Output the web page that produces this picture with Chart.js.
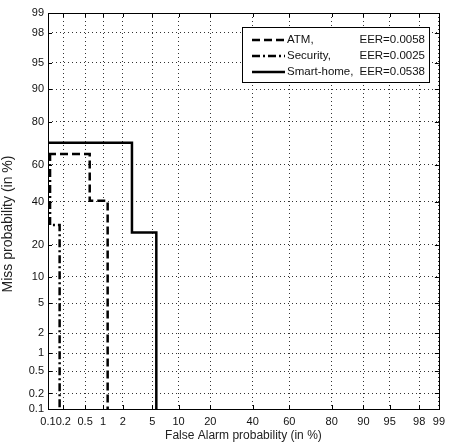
<!DOCTYPE html>
<html>
<head>
<meta charset="utf-8">
<script src="https://cdn.jsdelivr.net/npm/chart.js@4"></script>
<style>
  body { margin: 0; background: #fff; }
  canvas { display: block; }
</style>
</head>
<body>
<canvas id="det" width="451" height="442"></canvas>
<script>
// DET curves, all values in %
const tickValues = [0.1, 0.2, 0.5, 1, 2, 5, 10, 20, 40, 60, 80, 90, 95, 98, 99];
const tickLabels = ['0.1', '0.2', '0.5', '1', '2', '5', '10', '20', '40', '60', '80', '90', '95', '98', '99'];

const seriesNames = ['ATM,', 'Security,', 'Smart-home,'];
const eerLabels = ['EER=0.0058', 'EER=0.0025', 'EER=0.0538'];

const atmFA = [0.1, 0.6, 0.6, 1.18, 1.18];
const atmMiss = [65.4, 65.4, 40.4, 40.4, 0.1];

const securityFA = [0.11, 0.11, 0.17, 0.17];
const securityMiss = [66, 28.3, 28.3, 0.1];

const smartFA = [0.1, 2.7, 2.7, 5.6, 5.6];
const smartMiss = [70.9, 70.9, 25, 25, 0.1];

// inverse normal CDF (Acklam), used as the axis warp
function probit(p) {
    const a = [-3.969683028665376e+01, 2.209460984245205e+02, -2.759285104469687e+02, 1.383577518672690e+02, -3.066479806614716e+01, 2.506628277459239e+00];
    const b = [-5.447609879822406e+01, 1.615858368580409e+02, -1.556989798598866e+02, 6.680131188771972e+01, -1.328068155288572e+01];
    const c = [-7.784894002430293e-03, -3.223964580411365e-01, -2.400758277161838e+00, -2.549732539343734e+00, 4.374664141464968e+00, 2.938163982698783e+00];
    const d = [7.784695709041462e-03, 3.224671290700398e-01, 2.445134137142996e+00, 3.754408661907416e+00];
    const pl = 0.02425;
    let q, r;
    if (p < pl) {
        q = Math.sqrt(-2 * Math.log(p));
        return (((((c[0]*q+c[1])*q+c[2])*q+c[3])*q+c[4])*q+c[5]) / ((((d[0]*q+d[1])*q+d[2])*q+d[3])*q+1);
    }
    if (p > 1 - pl) {
        q = Math.sqrt(-2 * Math.log(1 - p));
        return -(((((c[0]*q+c[1])*q+c[2])*q+c[3])*q+c[4])*q+c[5]) / ((((d[0]*q+d[1])*q+d[2])*q+d[3])*q+1);
    }
    q = p - 0.5;
    r = q * q;
    return (((((a[0]*r+a[1])*r+a[2])*r+a[3])*r+a[4])*r+a[5])*q / (((((b[0]*r+b[1])*r+b[2])*r+b[3])*r+b[4])*r+1);
}
const pct = v => probit(v / 100);

function toPoints(fa, miss) {
    return fa.map((x, i) => ({ x: pct(x), y: pct(miss[i]) }));
}

const FONT = 'Arial, "Liberation Sans", sans-serif';
const dashes = [[8, 4], [8, 3, 2, 3], []];

const probitTicks = scale => {
    scale.ticks = tickValues.map(v => ({ value: pct(v) }));
};

// box, inner tick marks, legend and axis titles (MATLAB style)
const framePlugin = {
    id: 'frame',
    afterDatasetsDraw(chart) {
        const { ctx, chartArea: a, scales } = chart;
        ctx.save();
        ctx.strokeStyle = '#000';
        ctx.lineWidth = 1;
        ctx.setLineDash([]);
        ctx.beginPath();
        tickValues.forEach(v => {
            const x = Math.round(scales.x.getPixelForValue(pct(v))) + 0.5;
            const y = Math.round(scales.y.getPixelForValue(pct(v))) + 0.5;
            ctx.moveTo(x, a.bottom); ctx.lineTo(x, a.bottom - 4);
            ctx.moveTo(x, a.top); ctx.lineTo(x, a.top + 4);
            ctx.moveTo(a.left, y); ctx.lineTo(a.left + 4, y);
            ctx.moveTo(a.right, y); ctx.lineTo(a.right - 4, y);
        });
        ctx.stroke();
        ctx.strokeRect(Math.round(a.left) + 0.5, Math.round(a.top) + 0.5,
            Math.round(a.right - a.left), Math.round(a.bottom - a.top));

        // legend
        const lx = 242, ly = 27, lw = 187, lh = 55;
        ctx.fillStyle = '#fff';
        ctx.fillRect(lx, ly, lw, lh);
        ctx.strokeRect(lx + 0.5, ly + 0.5, lw, lh);
        ctx.font = '11.5px ' + FONT;
        ctx.textBaseline = 'middle';
        chart.data.datasets.forEach((ds, i) => {
            const y = ly + 13 + i * 16;
            ctx.setLineDash(dashes[i]);
            ctx.lineWidth = 2.5;
            ctx.beginPath();
            ctx.moveTo(252, y); ctx.lineTo(285, y);
            ctx.stroke();
            ctx.fillStyle = '#111';
            ctx.textAlign = 'left';
            ctx.fillText(seriesNames[i], 287, y);
            ctx.textAlign = 'right';
            ctx.fillText(eerLabels[i], 425, y);
        });
        ctx.setLineDash([]);

        // axis titles
        ctx.fillStyle = '#222';
        ctx.textAlign = 'center';
        ctx.font = '12px ' + FONT;
        ctx.fillText('False Alarm probability (in %)', (a.left + a.right) / 2, 436);
        ctx.translate(8, 224);
        ctx.rotate(-Math.PI / 2);
        ctx.font = '14px ' + FONT;
        ctx.fillText('Miss probability (in %)', 0, 0);
        ctx.restore();
    }
};

const ds = (label, fa, miss, i) => ({
    label,
    data: toPoints(fa, miss),
    borderColor: '#000',
    borderWidth: 2.5,
    borderDash: dashes[i],
    pointRadius: 0,
    fill: false,
    tension: 0
});

const axisOpts = {
    type: 'linear',
    min: pct(0.1),
    max: pct(99),
    afterBuildTicks: probitTicks,
    border: { display: false, dash: [1, 3] },
    grid: { color: '#333', drawTicks: false, lineWidth: 1 },
};

new Chart(document.getElementById('det'), {
    type: 'line',
    data: {
        datasets: [
            ds(seriesNames[0], atmFA, atmMiss, 0),
            ds(seriesNames[1], securityFA, securityMiss, 1),
            ds(seriesNames[2], smartFA, smartMiss, 2)
        ]
    },
    options: {
        responsive: false,
        animation: false,
        layout: { padding: { top: 13, right: 8, left: 0, bottom: 0 } },
        plugins: { legend: { display: false }, tooltip: { enabled: false } },
        scales: {
            x: {
                ...axisOpts,
                afterFit: s => { s.height = 33; },
                ticks: {
                    autoSkip: false,
                    maxRotation: 0,
                    padding: 6,
                    color: '#111',
                    font: { family: FONT, size: 11 },
                    callback: (v, i) => tickLabels[i]
                }
            },
            y: {
                ...axisOpts,
                afterFit: s => { s.width = 48; },
                ticks: {
                    autoSkip: false,
                    padding: 4,
                    color: '#111',
                    font: { family: FONT, size: 11 },
                    callback: (v, i) => tickLabels[i]
                }
            }
        }
    },
    plugins: [framePlugin]
});
</script>
</body>
</html>
